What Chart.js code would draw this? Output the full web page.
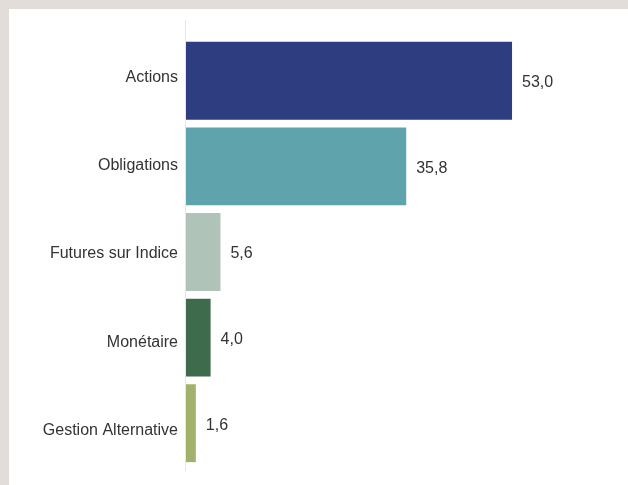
<!DOCTYPE html>
<html>
<head>
<meta charset="utf-8">
<script src="https://cdn.jsdelivr.net/npm/chart.js@4"></script>
<style>
  html, body { margin: 0; padding: 0; background: #e2ddd8; }
  #wrap { position: absolute; left: 9px; top: 9px; width: 619px; height: 476px; background: #fff; }
</style>
</head>
<body>
<div id="wrap"><canvas id="alloc" width="619" height="476"></canvas></div>
<script>
const categories = ["Actions", "Obligations", "Futures sur Indice", "Monétaire", "Gestion Alternative"];
const values = [53.0, 35.8, 5.6, 4.0, 1.6];
const barColors = ["#2e3d80", "#5fa3ad", "#b0c3b8", "#3d6b4c", "#a3b26a"];

const FONT = '16px "Liberation Sans", Arial, sans-serif';

// axis line a bit taller than the bars, like the original
const axisLine = {
  id: 'axisLine',
  beforeDatasetsDraw(chart) {
    const ctx = chart.ctx;
    const x = chart.chartArea.left;
    ctx.save();
    ctx.strokeStyle = '#e6e6e6';
    ctx.lineWidth = 1;
    ctx.beginPath();
    ctx.moveTo(x - 0.5, 11);
    ctx.lineTo(x - 0.5, 462);
    ctx.stroke();
    ctx.restore();
  }
};

// category names, spread a little wider than the bars (as in the original)
const catLabels = {
  id: 'catLabels',
  afterDatasetsDraw(chart) {
    const ctx = chart.ctx;
    const area = chart.chartArea;
    const mid = (area.top + area.bottom) / 2;
    const meta = chart.getDatasetMeta(0);
    ctx.save();
    ctx.font = FONT;
    ctx.fillStyle = '#333333';
    ctx.textAlign = 'right';
    ctx.textBaseline = 'middle';
    meta.data.forEach(function (bar, i) {
      let y = mid + (bar.y - mid) * 1.032 + 2;
      ctx.fillText(categories[i], area.left - 8, y);
    });
    ctx.restore();
  }
};

const valueLabels = {
  id: 'valueLabels',
  afterDatasetsDraw(chart) {
    const ctx = chart.ctx;
    const meta = chart.getDatasetMeta(0);
    ctx.save();
    ctx.font = FONT;
    ctx.fillStyle = '#333333';
    ctx.textAlign = 'left';
    ctx.textBaseline = 'middle';
    meta.data.forEach(function (bar, i) {
      ctx.fillText(values[i].toFixed(1).replace('.', ','), bar.x + 10, bar.y + 2);
    });
    ctx.restore();
  }
};

let context = document.querySelector("#alloc").getContext('2d');
new Chart(context, {
  type: 'bar',
  data: {
    labels: categories,
    datasets: [{
      data: values,
      backgroundColor: barColors,
      borderWidth: 0,
      barPercentage: 1,
      categoryPercentage: 0.91
    }]
  },
  options: {
    indexAxis: 'y',
    responsive: false,
    animation: false,
    layout: { padding: { top: 29, bottom: 19, left: 0, right: 36 } },
    plugins: { legend: { display: false }, tooltip: { enabled: false } },
    scales: {
      x: { display: false, min: 0, max: 66 },
      y: {
        grid: { display: false, drawTicks: false },
        border: { display: false },
        ticks: { display: false },
        afterFit(scale) { scale.width = 177; }
      }
    }
  },
  plugins: [axisLine, catLabels, valueLabels]
});
</script>
</body>
</html>
